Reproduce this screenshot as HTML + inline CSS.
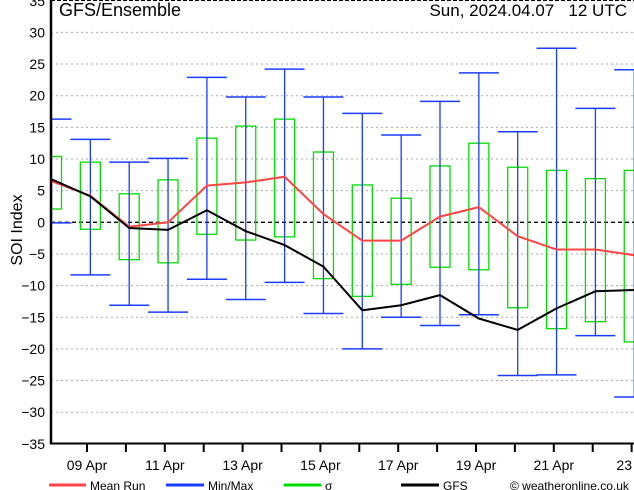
<!DOCTYPE html>
<html><head><meta charset="utf-8"><style>
html,body{margin:0;padding:0;background:#fff;}
svg{display:block;font-family:"Liberation Sans",sans-serif;}
</style></head><body>
<svg id="chart" width="634" height="490" viewBox="0 0 634 490" xmlns="http://www.w3.org/2000/svg">
<defs><clipPath id="plotclip"><rect x="51" y="0" width="583" height="444"/></clipPath></defs>
<rect width="634" height="490" fill="#fff"/>
<g id="grid"></g>
<g id="marks" clip-path="url(#plotclip)"></g>
<g id="axes"></g>
<text x="59" y="16" font-size="18" fill="#000">GFS/Ensemble</text>
<text x="627" y="16" font-size="17" text-anchor="end" fill="#000" xml:space="preserve">Sun, 2024.04.07   12 UTC</text>
<text transform="translate(22,230) rotate(-90)" font-size="16" text-anchor="middle" fill="#000">SOI Index</text>
<g>
<line x1="49" y1="485" x2="86" y2="485" stroke="#f44" stroke-width="3"/>
<text x="90" y="490" font-size="12">Mean Run</text>
<line x1="166" y1="485" x2="204" y2="485" stroke="#1a3cff" stroke-width="3"/>
<text x="208" y="490" font-size="12">Min/Max</text>
<line x1="284" y1="485" x2="321" y2="485" stroke="#00dd00" stroke-width="3"/>
<text x="325" y="490" font-size="12">σ</text>
<line x1="401" y1="485" x2="439" y2="485" stroke="#000" stroke-width="3"/>
<text x="443" y="490" font-size="12">GFS</text>
<text x="510" y="490" font-size="12">© weatheronline.co.uk</text>
</g>
</svg>
<script>
const maxVals = [16.3,13.1,9.5,10.1,22.9,19.8,24.2,19.8,17.2,13.8,19.1,23.6,14.3,27.5,18.0,24.1];
const minVals = [-0.1,-8.3,-13.1,-14.2,-9.0,-12.2,-9.5,-14.4,-20.0,-15.0,-16.3,-14.6,-24.2,-24.1,-17.9,-27.6];
const sigmaHigh = [10.4,9.5,4.5,6.7,13.3,15.2,16.3,11.1,5.9,3.8,8.9,12.5,8.7,8.2,6.9,8.2];
const sigmaLow = [2.1,-1.1,-5.9,-6.4,-1.9,-2.8,-2.3,-8.9,-11.7,-9.8,-7.1,-7.5,-13.5,-16.8,-15.7,-18.9];
const meanRun = [6.5,4.2,-0.7,0.0,5.8,6.3,7.2,1.3,-2.9,-2.9,0.9,2.4,-2.2,-4.3,-4.3,-5.2];
const gfsRun = [6.8,4.1,-0.9,-1.2,1.9,-1.4,-3.6,-7.0,-13.9,-13.1,-11.5,-15.2,-17.0,-13.6,-10.9,-10.7];
const yTicks = [35,30,25,20,15,10,5,0,-5,-10,-15,-20,-25,-30,-35];
const dateLabels = ["09  Apr","11  Apr","13  Apr","15  Apr","17  Apr","19  Apr","21  Apr","23"];

const NS="http://www.w3.org/2000/svg";
const X0=51.5, DX=38.85, Y0=222.3, PY=6.33;
const xs=i=>X0+DX*i;
const ys=v=>Y0-v*PY;
function mk(parent,tag,attrs){const e=document.createElementNS(NS,tag);for(const k in attrs)e.setAttribute(k,attrs[k]);parent.appendChild(e);return e;}
const grid=document.getElementById('grid'),marks=document.getElementById('marks'),axes=document.getElementById('axes');

yTicks.forEach(t=>{
  const y=ys(t);
  if(t!==0 && t!==35 && t!==-35){
    const g=mk(grid,'line',{x1:51,x2:634,y1:y,y2:y,stroke:'#aaa','stroke-width':1,'stroke-dasharray':'2,3'});
    
    
  }
  const tx=mk(axes,'text',{x:45,y:y+5,'font-size':14,'text-anchor':'end'});
  
  
  tx.textContent=t<0?'\u2212'+(-t):String(t);
});
const zl=mk(grid,'line',{x1:51,x2:634,y1:ys(0),y2:ys(0),stroke:'#000','stroke-width':1.3,'stroke-dasharray':'4,3'});


const tl=mk(grid,'line',{x1:51,x2:634,y1:0.5,y2:0.5,stroke:'#000','stroke-width':1,'stroke-dasharray':'4,2'});



maxVals.forEach((mx,i)=>{
  const x=xs(i);
  const b=mk(marks,'rect',{x:x-10,y:ys(sigmaHigh[i]),width:20,height:ys(sigmaLow[i])-ys(sigmaHigh[i]),fill:'none',stroke:'#00dd00','stroke-width':1.3});
  
  
  const w=mk(marks,'line',{x1:x,x2:x,y1:ys(mx),y2:ys(minVals[i]),stroke:'#1a3cff','stroke-width':1.3});
  
  
  [mx,minVals[i]].forEach(v=>{
    const c=mk(marks,'line',{x1:x-20,x2:x+20,y1:ys(v),y2:ys(v),stroke:'#1a3cff','stroke-width':1.5});
    
    
  });
});
const mp=mk(marks,'polyline',{points:meanRun.map((v,i)=>xs(i)+','+ys(v)).join(' '),fill:'none',stroke:'#f44','stroke-width':2});


const gp=mk(marks,'polyline',{points:gfsRun.map((v,i)=>xs(i)+','+ys(v)).join(' '),fill:'none',stroke:'#000','stroke-width':2});



const la=mk(axes,'line',{x1:51,x2:51,y1:0,y2:444,stroke:'#000','stroke-width':2.5});


const ba=mk(axes,'line',{x1:50,x2:634,y1:443.5,y2:443.5,stroke:'#000','stroke-width':2});


for(let k=0;k<15;k++){
  const x=87+38.9*k;
  const t=mk(axes,'line',{x1:x,x2:x,y1:443,y2:452,stroke:'#000','stroke-width':2});
  
  
}
dateLabels.forEach((d,k)=>{
  const x=87+77.8*k;
  const t=mk(axes,'text',{x:x,y:470,'font-size':14,'text-anchor':k===dateLabels.length-1?'end':'middle','xml:space':'preserve'});
  if(k===dateLabels.length-1)t.setAttribute('x',632);
  
  
  t.textContent=d;
});
</script>
</body></html>
